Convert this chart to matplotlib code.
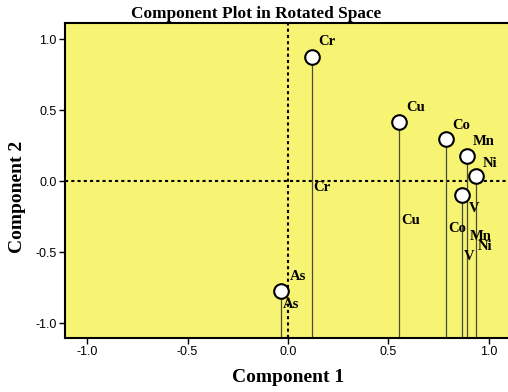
import matplotlib
matplotlib.use("Agg")
import matplotlib.pyplot as plt

# loadings
elements = ["Cr", "Cu", "Co", "Mn", "Ni", "V", "As"]
comp1 = [0.118, 0.554, 0.785, 0.892, 0.935, 0.864, -0.036]
comp2 = [0.877, 0.415, 0.296, 0.178, 0.037, -0.094, -0.773]

# label offsets next to each marker (pixels)
label_dx = [7, 7, 6, 5, 7, 7, 9]
label_dy = [15, 15, 14, 15, 13, -14, 15]

plt.rcParams["axes.unicode_minus"] = False
serif = ["Liberation Serif", "DejaVu Serif"]
sans = ["Liberation Sans", "DejaVu Sans"]

fig = plt.figure(figsize=(5.08, 3.92), dpi=100)
ax = fig.add_axes([0.128, 0.1388, 0.878, 0.8025])
ax.set_facecolor("#F8F473")

xlim = (-1.11, 1.11)
ylim = (-1.10, 1.115)
ax.set_xlim(xlim)
ax.set_ylim(ylim)

ax.axhline(0, color="black", lw=1.5, ls=(0, (1.5, 1.5)), zorder=1)
ax.axvline(0, color="black", lw=1.5, ls=(0, (1.5, 1.5)), zorder=1)

for name, x, y, dx, dy in zip(elements, comp1, comp2, label_dx, label_dy):
    ax.plot([x, x], [ylim[0], y], color="#4a4a38", lw=0.9, zorder=2)
    ax.plot(x, y, "o", ms=10.5, mfc="white", mec="black", mew=1.5, zorder=3)
    ax.annotate(name, (x, y), xytext=(dx, dy), textcoords="offset pixels",
                ha="left", va="center", fontsize=10.5, fontweight="bold",
                family=serif, zorder=4)
    # spike label at the middle of the drop line
    ax.annotate(name, (x, (y + ylim[0]) / 2), xytext=(2, 10), textcoords="offset pixels",
                ha="left", va="center", fontsize=10.5, fontweight="bold",
                family=serif, zorder=4)

ax.set_xticks([-1.0, -0.5, 0.0, 0.5, 1.0])
ax.set_yticks([-1.0, -0.5, 0.0, 0.5, 1.0])
ax.set_xticklabels(["-1.0", "-0.5", "0.0", "0.5", "1.0"], family=sans, fontsize=9)
ax.set_yticklabels(["-1.0", "-0.5", "0.0", "0.5", "1.0"], family=sans, fontsize=9)
ax.tick_params(direction="out", length=4, width=1, pad=2)

for side in ["left", "bottom", "top"]:
    ax.spines[side].set_linewidth(1.5)
ax.spines["right"].set_visible(False)

fig.text(256 / 508, 1 - 14 / 392, "Component Plot in Rotated Space", ha="center", va="center",
         fontsize=12.4, fontweight="bold", family=serif)
fig.text(288 / 508, 1 - 378 / 392, "Component 1", ha="center", va="center",
         fontsize=14, fontweight="bold", family=serif)
fig.text(18 / 508, 1 - 197 / 392, "Component 2", ha="center", va="center", rotation=90,
         fontsize=14, fontweight="bold", family=serif)

fig.savefig("out.png", dpi=100)
